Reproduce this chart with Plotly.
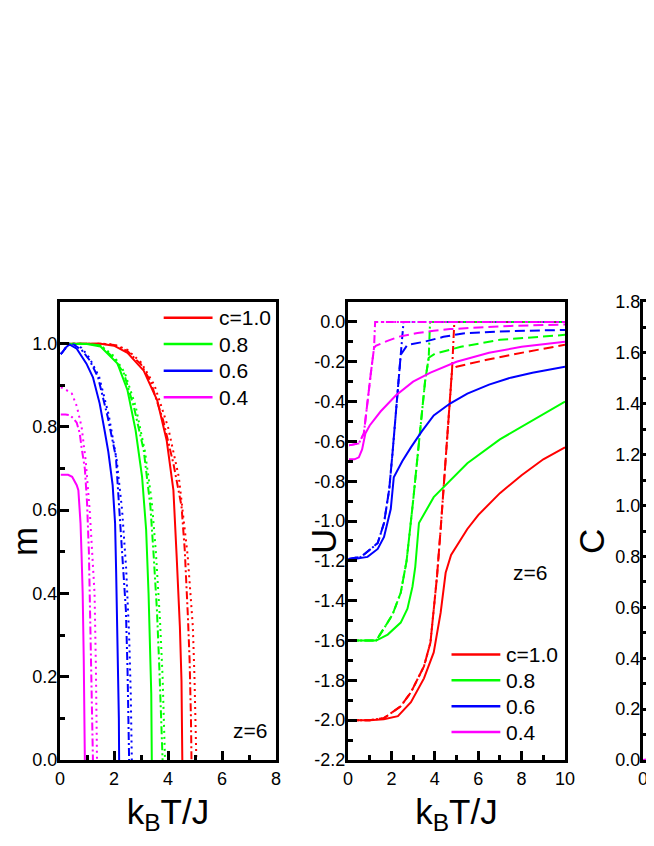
import plotly.graph_objects as go

FONT = "Arial, Liberation Sans, sans-serif"

c_labels = ["c=1.0", "0.8", "0.6", "0.4"]
c_colors = ["#FF0000", "#00FF00", "#0000FF", "#FF00FF"]

# ---------------- m(T) ----------------
# c=1.0
m_T_solid_10 = [0.05, 1.5, 2.0, 2.5, 3.1, 3.6, 3.95, 4.2, 4.32, 4.44, 4.5, 4.52, 4.53]
m_solid_10 = [1.0, 1.0, 0.995, 0.978, 0.935, 0.864, 0.768, 0.648, 0.49, 0.32, 0.19, 0.11, 0.0]
m_T_dd_10 = [0.05, 1.5, 2.0, 2.5, 3.0, 3.35, 3.82, 4.2, 4.5, 4.62, 4.74, 4.8, 4.85, 4.87]
m_dd_10 = [1.0, 1.0, 0.997, 0.982, 0.95, 0.91, 0.816, 0.712, 0.61, 0.505, 0.34, 0.24, 0.1, 0.0]
m_T_dot_10 = [0.05, 1.5, 2.0, 2.5, 3.0, 3.5, 4.0, 4.4, 4.73, 4.92, 4.98, 5.03, 5.05]
m_dot_10 = [1.0, 1.0, 0.998, 0.985, 0.955, 0.9, 0.8, 0.68, 0.49, 0.32, 0.2, 0.08, 0.0]
# c=0.8
m_T_solid_08 = [0.05, 1.0, 1.5, 2.13, 2.5, 2.8, 3.04, 3.19, 3.28, 3.35, 3.38, 3.4]
m_solid_08 = [1.0, 0.999, 0.993, 0.952, 0.888, 0.792, 0.68, 0.553, 0.40, 0.26, 0.16, 0.0]
m_T_dd_08 = [0.05, 1.0, 1.5, 2.0, 2.37, 2.74, 3.1, 3.35, 3.47, 3.59, 3.68, 3.75, 3.8]
m_dd_08 = [1.0, 1.0, 0.995, 0.965, 0.928, 0.847, 0.744, 0.608, 0.49, 0.36, 0.22, 0.1, 0.0]
m_T_dot_08 = [0.05, 1.0, 1.5, 2.0, 2.4, 2.8, 3.15, 3.4, 3.55, 3.7, 3.8, 3.86, 3.89]
m_dot_08 = [1.0, 1.0, 0.996, 0.97, 0.93, 0.85, 0.74, 0.62, 0.5, 0.34, 0.2, 0.08, 0.0]
# c=0.6
m_T_solid_06 = [0.03, 0.1, 0.2, 0.35, 0.62, 0.98, 1.22, 1.47, 1.65, 1.79, 1.95, 2.04, 2.08, 2.12, 2.15, 2.18, 2.19]
m_solid_06 = [0.975, 0.98, 0.99, 0.998, 0.988, 0.952, 0.919, 0.856, 0.792, 0.74, 0.66, 0.569, 0.45, 0.32, 0.22, 0.1, 0.0]
m_T_dd_06 = [0.03, 0.15, 0.3, 0.5, 0.8, 1.1, 1.41, 1.77, 2.07, 2.19, 2.32, 2.44, 2.5, 2.54, 2.56]
m_dd_06 = [0.975, 0.985, 0.997, 0.998, 0.985, 0.96, 0.919, 0.823, 0.728, 0.608, 0.49, 0.36, 0.22, 0.1, 0.0]
m_T_dot_06 = [0.03, 0.15, 0.3, 0.5, 0.8, 1.1, 1.45, 1.8, 2.1, 2.3, 2.45, 2.56, 2.62, 2.66]
m_dot_06 = [0.975, 0.985, 0.997, 0.998, 0.99, 0.965, 0.92, 0.83, 0.72, 0.6, 0.46, 0.3, 0.16, 0.0]
# c=0.4
m_T_solid_04 = [0.03, 0.3, 0.45, 0.55, 0.62, 0.68, 0.76, 0.8, 0.84, 0.88, 0.91, 0.92]
m_solid_04 = [0.685, 0.685, 0.68, 0.67, 0.66, 0.648, 0.569, 0.49, 0.40, 0.24, 0.1, 0.0]
m_T_dd_04 = [0.03, 0.2, 0.37, 0.5, 0.62, 0.73, 0.8, 0.92, 1.0, 1.07, 1.1, 1.15, 1.2, 1.22]
m_dd_04 = [0.83, 0.83, 0.828, 0.82, 0.81, 0.785, 0.75, 0.70, 0.62, 0.5, 0.40, 0.24, 0.08, 0.0]
m_T_dot_04 = [0.03, 0.2, 0.44, 0.62, 0.8, 0.95, 1.1, 1.2, 1.28, 1.33, 1.37]
m_dot_04 = [0.895, 0.89, 0.88, 0.85, 0.8, 0.72, 0.6, 0.5, 0.40, 0.22, 0.0]

# ---------------- U(T) ----------------
# c=1.0
u_T_solid_10 = [0.05, 1.0, 1.65, 2.3, 2.9, 3.5, 3.95, 4.27, 4.5, 4.75, 5.5, 6.0, 7.0, 8.0, 9.0, 10.0]
u_solid_10 = [-2.0, -2.0, -1.995, -1.98, -1.91, -1.79, -1.66, -1.46, -1.26, -1.17, -1.04, -0.97, -0.86, -0.77, -0.69, -0.63]
u_T_dd_10 = [0.05, 1.0, 1.65, 2.43, 2.9, 3.5, 3.8, 3.95, 4.1, 4.27, 4.58, 4.8, 4.9, 10.0]
u_dd_10 = [-2.0, -2.0, -1.99, -1.93, -1.86, -1.73, -1.61, -1.44, -1.28, -1.04, -0.59, -0.23, 0.0, 0.0]
u_T_dash_10 = [0.05, 1.0, 1.65, 2.43, 2.9, 3.5, 3.8, 3.95, 4.1, 4.27, 4.58, 4.8, 5.0, 6.4, 8.25, 10.0]
u_dash_10 = [-2.0, -2.0, -1.99, -1.93, -1.86, -1.73, -1.61, -1.44, -1.28, -1.04, -0.59, -0.235, -0.225, -0.19, -0.15, -0.115]
u_T_dot_10 = [5.05, 10.0]
u_dot_10 = [0.0, 0.0]
# c=0.8
u_T_solid_08 = [0.05, 1.3, 1.83, 2.43, 2.74, 2.97, 3.1, 3.27, 3.95, 4.4, 5.5, 7.0, 8.55, 10.0]
u_solid_08 = [-1.6, -1.6, -1.57, -1.51, -1.44, -1.33, -1.23, -1.01, -0.88, -0.83, -0.71, -0.59, -0.49, -0.40]
u_T_dd_08 = [0.05, 1.3, 1.65, 2.05, 2.43, 2.7, 3.0, 3.3, 3.55, 3.72, 3.78, 10.0]
u_dd_08 = [-1.6, -1.6, -1.54, -1.47, -1.36, -1.2, -0.9, -0.57, -0.3, -0.18, 0.0, 0.0]
u_T_dash_08 = [0.05, 1.3, 1.65, 2.05, 2.43, 2.7, 3.0, 3.3, 3.55, 3.72, 4.0, 5.2, 7.0, 10.0]
u_dash_08 = [-1.6, -1.6, -1.54, -1.47, -1.36, -1.2, -0.9, -0.57, -0.3, -0.18, -0.16, -0.125, -0.09, -0.065]
u_T_dot_08 = [3.9, 10.0]
u_dot_08 = [0.0, 0.0]
# c=0.6
u_T_solid_06 = [0.03, 0.28, 0.9, 1.37, 1.66, 1.97, 2.11, 2.5, 2.9, 3.4, 3.95, 4.7, 5.5, 6.5, 7.5, 8.5, 10.0]
u_solid_06 = [-1.19, -1.19, -1.18, -1.14, -1.08, -0.94, -0.78, -0.70, -0.63, -0.55, -0.47, -0.41, -0.36, -0.315, -0.28, -0.255, -0.225]
u_T_dd_06 = [0.03, 0.6, 1.05, 1.37, 1.66, 1.9, 2.05, 2.2, 2.35, 2.43, 2.56, 10.0]
u_dd_06 = [-1.19, -1.18, -1.14, -1.11, -1.01, -0.84, -0.66, -0.48, -0.26, -0.165, 0.0, 0.0]
u_T_dash_06 = [0.03, 0.6, 1.05, 1.37, 1.66, 1.9, 2.05, 2.2, 2.35, 2.43, 2.74, 3.5, 4.4, 5.3, 7.0, 10.0]
u_dash_06 = [-1.19, -1.18, -1.14, -1.11, -1.01, -0.84, -0.66, -0.48, -0.26, -0.165, -0.115, -0.10, -0.075, -0.058, -0.048, -0.04]
u_T_dot_06 = [2.66, 10.0]
u_dot_06 = [0.0, 0.0]
# c=0.4
u_T_solid_04 = [0.05, 0.3, 0.5, 0.65, 0.8, 1.0, 1.5, 2.2, 3.0, 3.8, 5.0, 6.5, 8.0, 10.0]
u_solid_04 = [-0.69, -0.69, -0.68, -0.64, -0.56, -0.52, -0.45, -0.37, -0.30, -0.255, -0.2, -0.155, -0.125, -0.10]
u_T_dd_04 = [0.05, 0.5, 0.73, 0.9, 1.05, 1.2, 1.25, 10.0]
u_dd_04 = [-0.62, -0.61, -0.56, -0.39, -0.26, -0.13, 0.0, 0.0]
u_T_dash_04 = [0.05, 0.5, 0.73, 0.9, 1.05, 1.2, 1.28, 1.82, 2.35, 3.2, 3.95, 4.7, 5.6, 7.5, 10.0]
u_dash_04 = [-0.62, -0.61, -0.56, -0.39, -0.26, -0.13, -0.12, -0.095, -0.074, -0.056, -0.044, -0.036, -0.03, -0.02, -0.013]
u_T_dot_04 = [1.3, 10.0]
u_dot_04 = [0.0, 0.0]

# ---------------- C(T) (only the edge is visible) ----------------
c_T_04 = [0.0, 0.2, 0.32, 0.44, 0.55, 0.7, 0.9]
c_C_04 = [0.0, 0.003, 0.03, 0.056, 0.085, 0.13, 0.19]

# tick labels
m_ticks = [0.0, 0.2, 0.4, 0.6, 0.8, 1.0]
m_ticklabels = ["0.0", "0.2", "0.4", "0.6", "0.8", "1.0"]
u_ticks = [-2.2, -2.0, -1.8, -1.6, -1.4, -1.2, -1.0, -0.8, -0.6, -0.4, -0.2, 0.0]
u_ticklabels = ["-2.2", "-2.0", "-1.8", "-1.6", "-1.4", "-1.2", "-1.0", "-0.8", "-0.6", "-0.4", "-0.2", "0.0"]
c_ticks = [0.0, 0.2, 0.4, 0.6, 0.8, 1.0, 1.2, 1.4, 1.6, 1.8]
c_ticklabels = ["0.0", "0.2", "0.4", "0.6", "0.8", "1.0", "1.2", "1.4", "1.6", "1.8"]

DASHDOT = "8px,3px,2px,3px"
DOT = "2px,4px"
DASH = "10px,5px"

m_curves = [
    (m_T_solid_10, m_solid_10, 0, "solid"), (m_T_dd_10, m_dd_10, 0, DASHDOT), (m_T_dot_10, m_dot_10, 0, DOT),
    (m_T_solid_08, m_solid_08, 1, "solid"), (m_T_dd_08, m_dd_08, 1, DASHDOT), (m_T_dot_08, m_dot_08, 1, DOT),
    (m_T_solid_06, m_solid_06, 2, "solid"), (m_T_dd_06, m_dd_06, 2, DASHDOT), (m_T_dot_06, m_dot_06, 2, DOT),
    (m_T_solid_04, m_solid_04, 3, "solid"), (m_T_dd_04, m_dd_04, 3, DASHDOT), (m_T_dot_04, m_dot_04, 3, DOT),
]
u_curves = [
    (u_T_solid_10, u_solid_10, 0, "solid"), (u_T_dash_10, u_dash_10, 0, DASH),
    (u_T_dd_10, u_dd_10, 0, DASHDOT), (u_T_dot_10, u_dot_10, 0, DOT),
    (u_T_solid_08, u_solid_08, 1, "solid"), (u_T_dash_08, u_dash_08, 1, DASH),
    (u_T_dd_08, u_dd_08, 1, DASHDOT), (u_T_dot_08, u_dot_08, 1, DOT),
    (u_T_solid_06, u_solid_06, 2, "solid"), (u_T_dash_06, u_dash_06, 2, DASH),
    (u_T_dd_06, u_dd_06, 2, DASHDOT), (u_T_dot_06, u_dot_06, 2, DOT),
    (u_T_solid_04, u_solid_04, 3, "solid"), (u_T_dash_04, u_dash_04, 3, DASH),
    (u_T_dd_04, u_dd_04, 3, DASHDOT), (u_T_dot_04, u_dot_04, 3, DOT),
]

fig = go.Figure()

for xs, ys, ci, dash in m_curves:
    fig.add_trace(go.Scatter(x=xs, y=ys, mode="lines", xaxis="x", yaxis="y",
                             line=dict(color=c_colors[ci], width=2, dash=dash),
                             showlegend=False))
for xs, ys, ci, dash in u_curves:
    fig.add_trace(go.Scatter(x=xs, y=ys, mode="lines", xaxis="x2", yaxis="y2",
                             line=dict(color=c_colors[ci], width=2, dash=dash),
                             showlegend=False))
fig.add_trace(go.Scatter(x=c_T_04, y=c_C_04, mode="lines", xaxis="x3", yaxis="y3",
                         line=dict(color=c_colors[3], width=2), showlegend=False))


def frame(**kw):
    d = dict(showline=True, linewidth=3, linecolor="black", mirror=True,
             ticks="inside", ticklen=9, tickwidth=3, tickcolor="black",
             showgrid=False, zeroline=False, automargin=False,
             tickfont=dict(family=FONT, size=18, color="black"))
    d.update(kw)
    return d


def minor(step):
    return dict(ticks="inside", ticklen=5, tickwidth=2.5, tickcolor="black",
                dtick=step, tick0=0, showgrid=False)


xtitle = dict(text="k<sub>B</sub>T/J", font=dict(family=FONT, size=35, color="black"), standoff=12)

# the page body adds an 8px margin, so pixel positions below are page positions minus 8
W, H = 654, 846
OFF = 8


def px(v):
    return (v - OFF) / W


def py(v):
    return 1 - (v - OFF) / H


fig.update_layout(
    width=W, height=H,
    margin=dict(l=0, r=0, t=0, b=0),
    paper_bgcolor="white", plot_bgcolor="white",
    font=dict(family=FONT, color="black"),
    xaxis=frame(domain=[px(60), px(276)], range=[0, 8], anchor="y",
                tickmode="linear", tick0=0, dtick=2, minor=minor(1), title=xtitle),
    yaxis=frame(domain=[py(760), py(302)], range=[0, 1.1], anchor="x", ticklabelstandoff=-4,
                tickmode="array", tickvals=m_ticks, ticktext=m_ticklabels, minor=minor(0.1)),
    xaxis2=frame(domain=[px(348), px(565)], range=[0, 10], anchor="y2",
                 tickmode="linear", tick0=0, dtick=2, minor=minor(1), title=xtitle),
    yaxis2=frame(domain=[py(760), py(302)], range=[-2.2, 0.1], anchor="x2", ticklabelstandoff=-4,
                 tickmode="array", tickvals=u_ticks, ticktext=u_ticklabels, minor=minor(0.1)),
    xaxis3=frame(domain=[px(643), 1.0], range=[0, 0.87], anchor="y3",
                 tickmode="array", tickvals=[0], ticktext=["0"]),
    yaxis3=frame(domain=[py(760), py(302)], range=[0, 1.8], anchor="x3", mirror=False, ticklabelstandoff=-4,
                 tickmode="array", tickvals=c_ticks, ticktext=c_ticklabels, minor=minor(0.1)),
)

# y-axis titles
for txt, xp in [("m", 24), ("U", 323), ("C", 591)]:
    fig.add_annotation(text=txt, x=px(xp), y=py(542), xref="paper", yref="paper",
                       xanchor="center", yanchor="middle",
                       textangle=-90, showarrow=False,
                       font=dict(family=FONT, size=35, color="black"))

# z=6 labels
fig.add_annotation(text="z=6", x=7.05, y=0.072, xref="x", yref="y", showarrow=False,
                   font=dict(family=FONT, size=21, color="black"))
fig.add_annotation(text="z=6", x=8.4, y=-1.26, xref="x2", yref="y2", showarrow=False,
                   font=dict(family=FONT, size=21, color="black"))

# legends drawn as line samples + labels
leg1_y = [1.062, 0.999, 0.935, 0.871]
leg2_y = [-1.67, -1.80, -1.93, -2.06]
for i, (lab, col) in enumerate(zip(c_labels, c_colors)):
    fig.add_shape(type="line", xref="x", yref="y", x0=3.84, x1=5.65, y0=leg1_y[i], y1=leg1_y[i],
                  line=dict(color=col, width=2.5))
    fig.add_annotation(text=lab, x=5.8, y=leg1_y[i], xref="x", yref="y", xanchor="left",
                       showarrow=False, font=dict(family=FONT, size=21, color="black"))
    fig.add_shape(type="line", xref="x2", yref="y2", x0=4.77, x1=7.02, y0=leg2_y[i], y1=leg2_y[i],
                  line=dict(color=col, width=2.5))
    fig.add_annotation(text=lab, x=7.2, y=leg2_y[i], xref="x2", yref="y2", xanchor="left",
                       showarrow=False, font=dict(family=FONT, size=21, color="black"))

fig.write_html("out.html")
